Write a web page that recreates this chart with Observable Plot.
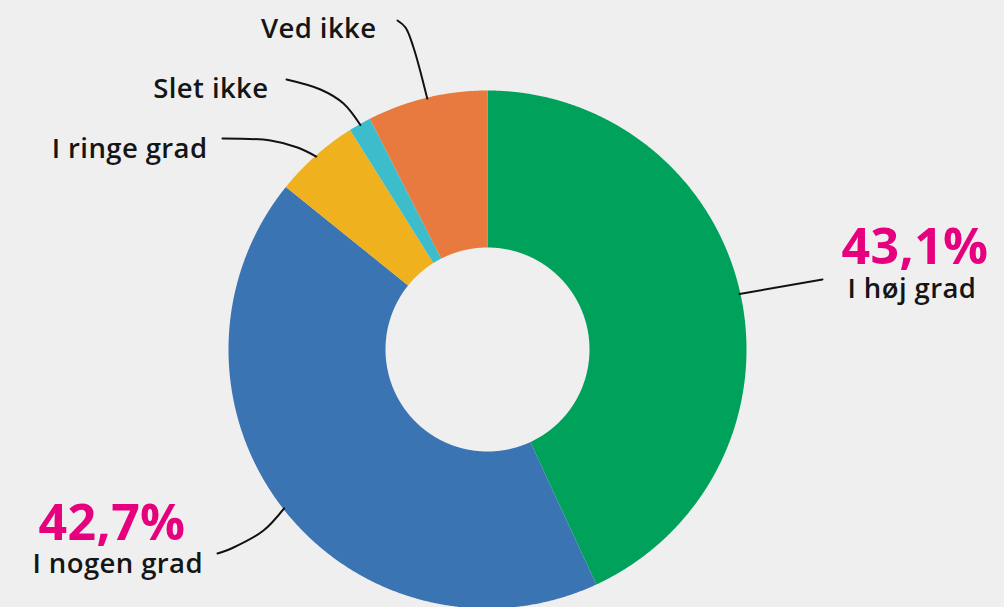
<!DOCTYPE html>
<html><head><meta charset="utf-8">
<script src="https://cdn.jsdelivr.net/npm/d3@7"></script>
<script src="https://cdn.jsdelivr.net/npm/@observablehq/plot@0.6"></script>
<style>html,body{margin:0;padding:0;background:#efefef;overflow:hidden}
svg text{letter-spacing:0.4px}</style>
</head><body><div id="chart"></div>
<script>
// ---- data ----
const categories = ["I høj grad", "I nogen grad", "I ringe grad", "Slet ikke", "Ved ikke"];
const shares = [43.1, 42.7, 5.3, 1.4, 7.5];
const valueLabels = ["43,1%", "42,7%", "", "", ""];
const colors = ["#00a25b", "#3b74b3", "#f0b11f", "#3dbdcb", "#e8793f"];

// ---- layout (chart units, origin at donut centre, y up) ----
const outerR = 259, innerR = 102;
const nameLayout = [
  {label: "I høj grad",   x: 360,  y: 52,   anchor: "start"},
  {label: "I nogen grad", x: -455, y: -223, anchor: "start"},
  {label: "I ringe grad", x: -280, y: 192,  anchor: "end"},
  {label: "Slet ikke",    x: -219, y: 252,  anchor: "end"},
  {label: "Ved ikke",     x: -111, y: 312,  anchor: "end"}
];
const valueLayout = [
  {label: "I høj grad",   x: 354,  y: 86},
  {label: "I nogen grad", x: -449, y: -190}
];
const leaderBends = {
  "I høj grad":   [[335, 70]],
  "I nogen grad": [[-270, -204], [-254, -198], [-224, -181]],
  "I ringe grad": [[-265, 211], [-217, 209], [-190, 202]],
  "Slet ikke":    [[-201, 270], [-167, 260], [-144, 246]],
  "Ved ikke":     [[-90, 329], [-82, 322], [-74, 302]]
};

// ---- geometry from data ----
const arcs = d3.pie().sort(null).value(d => d.share)(
  categories.map((c, i) => ({label: c, share: shares[i]}))
);
const slicePts = [];
for (const a of arcs) {
  const n = Math.max(2, Math.ceil((a.endAngle - a.startAngle) / 0.005));
  for (let k = 0; k <= n; k++) {
    const t = a.startAngle + (a.endAngle - a.startAngle) * k / n;
    slicePts.push({label: a.data.label, x: outerR * Math.sin(t), y: outerR * Math.cos(t)});
  }
  for (let k = n; k >= 0; k--) {
    const t = a.startAngle + (a.endAngle - a.startAngle) * k / n;
    slicePts.push({label: a.data.label, x: innerR * Math.sin(t), y: innerR * Math.cos(t)});
  }
}
const leaderPts = [];
for (const a of arcs) {
  const mid = (a.startAngle + a.endAngle) / 2;
  for (const [x, y] of leaderBends[a.data.label]) leaderPts.push({label: a.data.label, x, y});
  leaderPts.push({label: a.data.label, x: (outerR - 1) * Math.sin(mid), y: (outerR - 1) * Math.cos(mid)});
}
const valueTexts = valueLayout.map(d => ({...d, text: valueLabels[categories.indexOf(d.label)]}));

const font = "'Open Sans', sans-serif";
const chart = Plot.plot({
  width: 1004, height: 607, margin: 0,
  x: {domain: [-487, 517], axis: null},
  y: {domain: [-258, 349], axis: null},
  color: {domain: categories, range: colors},
  style: {background: "#efefef", overflow: "visible"},
  marks: [
    Plot.line(slicePts, {x: "x", y: "y", z: "label", fill: "label", stroke: null, curve: "linear"}),
    Plot.line(leaderPts, {x: "x", y: "y", z: "label", stroke: "#111", strokeWidth: 2, curve: "catmull-rom"}),
    Plot.text(nameLayout.filter(d => d.anchor === "start"), {x: "x", y: "y", text: "label", textAnchor: "start", lineAnchor: "bottom",
      fontFamily: font, fontSize: 27.5, fontWeight: 600, fill: "#151515"}),
    Plot.text(nameLayout.filter(d => d.anchor === "end"), {x: "x", y: "y", text: "label", textAnchor: "end", lineAnchor: "bottom",
      fontFamily: font, fontSize: 27.5, fontWeight: 600, fill: "#151515"}),
    Plot.text(valueTexts, {x: "x", y: "y", text: "text", textAnchor: "start", lineAnchor: "bottom",
      fontFamily: font, fontSize: 50, fontWeight: 700, fill: "#e6007e"})
  ]
});
document.getElementById("chart").append(chart);
</script>
</body></html>
